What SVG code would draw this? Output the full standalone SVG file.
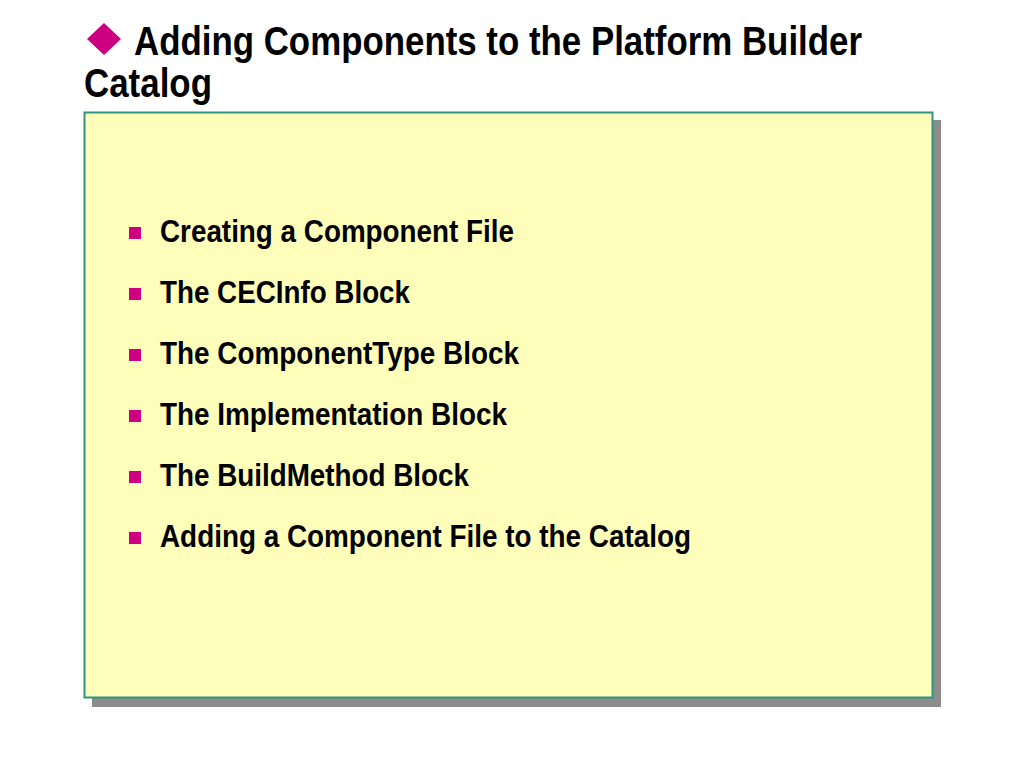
<svg xmlns="http://www.w3.org/2000/svg" width="1024" height="768" viewBox="0 0 1024 768">
<style>
.t{font-family:"Liberation Sans Narrow","Arial Narrow","Liberation Sans",sans-serif;font-weight:bold;fill:#000}
.h{font-size:40px}
.b{font-size:31px}
.sq{fill:#cc0080}
</style>
<rect width="1024" height="768" fill="#fff"/>
<g id="title">
<polygon class="sq" points="104,23 121,39 104,55 87,39"/>
<text class="t h" x="134" y="55" textLength="728" lengthAdjust="spacingAndGlyphs">Adding Components to the Platform Builder</text>
<text class="t h" x="84" y="97" textLength="128" lengthAdjust="spacingAndGlyphs">Catalog</text>
</g>
<g id="panel">
<rect x="92" y="120" width="849" height="587" fill="#8c8c8c"/>
<rect x="84.5" y="112.5" width="848" height="585" fill="#fefeba" stroke="#2e9680" stroke-width="2"/>
</g>
<g id="bullets">
<rect class="sq" x="129" y="227" width="12" height="12"/>
<text class="t b" x="160" y="242" textLength="354" lengthAdjust="spacingAndGlyphs">Creating a Component File</text>
<rect class="sq" x="129" y="288" width="12" height="12"/>
<text class="t b" x="160" y="303" textLength="250" lengthAdjust="spacingAndGlyphs">The CECInfo Block</text>
<rect class="sq" x="129" y="349" width="12" height="12"/>
<text class="t b" x="160" y="364" textLength="359" lengthAdjust="spacingAndGlyphs">The ComponentType Block</text>
<rect class="sq" x="129" y="410" width="12" height="12"/>
<text class="t b" x="160" y="425" textLength="347" lengthAdjust="spacingAndGlyphs">The Implementation Block</text>
<rect class="sq" x="129" y="471" width="12" height="12"/>
<text class="t b" x="160" y="486" textLength="309" lengthAdjust="spacingAndGlyphs">The BuildMethod Block</text>
<rect class="sq" x="129" y="532" width="12" height="12"/>
<text class="t b" x="160" y="547" textLength="531" lengthAdjust="spacingAndGlyphs">Adding a Component File to the Catalog</text>
</g>
</svg>
